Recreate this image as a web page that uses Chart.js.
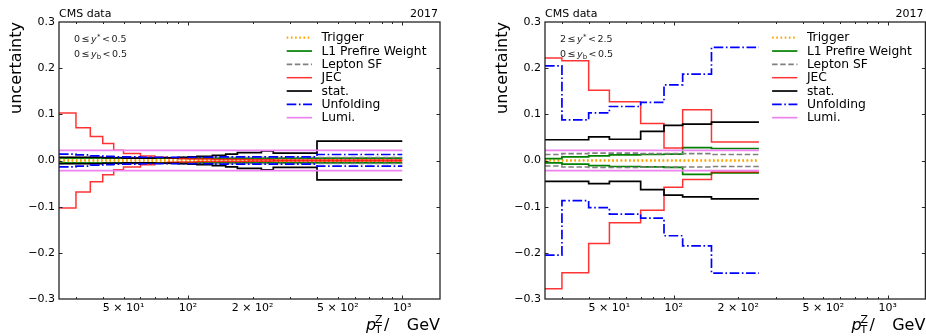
<!DOCTYPE html>
<html><head><meta charset="utf-8">
<script src="https://cdn.jsdelivr.net/npm/chart.js@4.4.0/dist/chart.umd.min.js"></script>
<style>
html,body{margin:0;padding:0;background:#fff;}
#wrap{position:relative;width:926px;height:336px;overflow:hidden;background:#fff;}
canvas{position:absolute;top:0;}
#c1{left:0;} #c2{left:463px;}
</style></head><body>
<div id="wrap"><canvas id="c1" width="463" height="336"></canvas><canvas id="c2" width="463" height="336"></canvas></div>
<script>
// ---------- data ----------
const seriesNames = ['Trigger', 'L1 Prefire Weight', 'Lepton SF', 'JEC', 'stat.', 'Unfolding', 'Lumi.'];
const xTickValues = [50, 100, 200, 500, 1000];
const xTickLabels = ['5 × 10¹', '10²', '2 × 10²', '5 × 10²', '10³'];
const yTickValues = [-0.3, -0.2, -0.1, 0.0, 0.1, 0.2, 0.3];

// left panel: 0 <= y* < 0.5, 0 <= yb < 0.5
const edgesA = [25, 30, 35, 40, 45, 50, 60, 70, 80, 90, 100, 110, 130, 150, 170, 190, 220, 250, 400, 1000];
const trigUpA   = [0.0015,0.0015,0.0015,0.0015,0.0015,0.0015,0.0015,0.0015,0.0015,0.0015,0.0015,0.0015,0.0015,0.0015,0.0015,0.0015,0.0015,0.0015,0.0015];
const trigDownA = [-0.0015,-0.0015,-0.0015,-0.0015,-0.0015,-0.0015,-0.0015,-0.0015,-0.0015,-0.0015,-0.0015,-0.0015,-0.0015,-0.0015,-0.0015,-0.0015,-0.0015,-0.0015,-0.0015];
const l1UpA     = [0.005,0.005,0.005,0.005,0.005,0.005,0.005,0.005,0.005,0.005,0.005,0.005,0.005,0.005,0.005,0.005,0.005,0.005,0.005];
const l1DownA   = [-0.005,-0.005,-0.005,-0.005,-0.005,-0.005,-0.005,-0.005,-0.005,-0.005,-0.005,-0.005,-0.005,-0.005,-0.005,-0.005,-0.005,-0.005,-0.005];
const lepUpA    = [0.0065,0.0065,0.0065,0.0065,0.0065,0.0065,0.0065,0.0065,0.0065,0.0065,0.0065,0.0065,0.0065,0.0065,0.0065,0.0065,0.0065,0.0065,0.0065];
const lepDownA  = [-0.0065,-0.0065,-0.0065,-0.0065,-0.0065,-0.0065,-0.0065,-0.0065,-0.0065,-0.0065,-0.0065,-0.0065,-0.0065,-0.0065,-0.0065,-0.0065,-0.0065,-0.0065,-0.0065];
const jecUpA    = [0.103,0.071,0.052,0.037,0.022,0.015,0.010,0.007,0.005,0.004,0.003,0.003,0.002,0.002,0.002,0.0015,0.0015,0.001,0.001];
const jecDownA  = [-0.103,-0.068,-0.046,-0.031,-0.020,-0.014,-0.009,-0.006,-0.004,-0.003,-0.003,-0.002,-0.002,-0.002,-0.002,-0.0015,-0.0015,-0.001,-0.001];
const statUpA   = [0.007,0.007,0.007,0.006,0.006,0.005,0.005,0.006,0.006,0.007,0.008,0.009,0.011,0.014,0.017,0.017,0.021,0.016,0.042];
const statDownA = [-0.007,-0.007,-0.007,-0.006,-0.006,-0.005,-0.005,-0.006,-0.006,-0.007,-0.008,-0.009,-0.011,-0.014,-0.017,-0.017,-0.020,-0.015,-0.042];
const unfUpA    = [0.014,0.012,0.010,0.009,0.008,0.008,0.007,0.007,0.007,0.007,0.007,0.007,0.008,0.008,0.008,0.008,0.008,0.008,0.013];
const unfDownA  = [-0.014,-0.012,-0.010,-0.009,-0.008,-0.008,-0.007,-0.007,-0.007,-0.007,-0.007,-0.007,-0.008,-0.008,-0.008,-0.008,-0.008,-0.008,-0.012];
const lumiUpA   = [0.022,0.022,0.022,0.022,0.022,0.022,0.022,0.022,0.022,0.022,0.022,0.022,0.022,0.022,0.022,0.022,0.022,0.022,0.022];
const lumiDownA = [-0.022,-0.022,-0.022,-0.022,-0.022,-0.022,-0.022,-0.022,-0.022,-0.022,-0.022,-0.022,-0.022,-0.022,-0.022,-0.022,-0.022,-0.022,-0.022];

// right panel: 2 <= y* < 2.5, 0 <= yb < 0.5
const edgesB = [25, 30, 40, 50, 70, 90, 110, 150, 250];
const trigUpB   = [0.0005,0.0005,0.0005,0.0005,0.0005,0.0005,0.0005,0.0005];
const trigDownB = [-0.0005,-0.0005,-0.0005,-0.0005,-0.0005,-0.0005,-0.0005,-0.0005];
const l1UpB     = [0.004,0.008,0.010,0.012,0.013,0.014,0.028,0.026];
const l1DownB   = [-0.005,-0.008,-0.011,-0.013,-0.014,-0.015,-0.030,-0.027];
const lepUpB    = [0.013,0.015,0.016,0.016,0.015,0.015,0.015,0.013];
const lepDownB  = [-0.012,-0.014,-0.015,-0.015,-0.014,-0.014,-0.014,-0.013];
const jecUpB    = [0.222,0.216,0.152,0.127,0.080,0.027,0.110,0.040];
const jecDownB  = [-0.278,-0.243,-0.180,-0.135,-0.108,-0.058,-0.041,-0.025];
const statUpB   = [0.045,0.045,0.051,0.046,0.063,0.076,0.079,0.083];
const statDownB = [-0.045,-0.045,-0.050,-0.045,-0.063,-0.075,-0.079,-0.083];
const unfUpB    = [0.205,0.088,0.103,0.117,0.126,0.164,0.187,0.245];
const unfDownB  = [-0.205,-0.087,-0.102,-0.116,-0.125,-0.163,-0.185,-0.244];
const lumiUpB   = [0.022,0.022,0.022,0.022,0.022,0.022,0.022,0.022];
const lumiDownB = [-0.022,-0.022,-0.022,-0.022,-0.022,-0.022,-0.022,-0.022];

// ---------- styles ----------
const seriesStyles = [
  {color:'#ffa500', width:2.2, dash:[1.6,2.6]},
  {color:'#008000', width:1.7, dash:[]},
  {color:'#808080', width:1.6, dash:[5.5,2.6]},
  {color:'rgba(255,0,0,0.8)', width:1.5, dash:[]},
  {color:'#000000', width:1.7, dash:[]},
  {color:'#0000ff', width:1.7, dash:[9.6,2.6,1.6,2.6]},
  {color:'#ee82ee', width:1.7, dash:[]}
];

Chart.defaults.font.family = '"DejaVu Sans"';
Chart.defaults.font.size = 11;
Chart.defaults.color = '#000';

function steps(edges, vals) {
  const pts = vals.map((v, i) => ({x: edges[i], y: v}));
  pts.push({x: edges[edges.length - 1], y: vals[vals.length - 1]});
  return pts;
}

function buildDatasets(edges, pairs) {
  const ds = [];
  pairs.forEach((pr, i) => {
    const st = seriesStyles[i];
    [pr[0], pr[1]].forEach(vals => {
      ds.push({
        label: seriesNames[i],
        data: steps(edges, vals),
        borderColor: st.color, borderWidth: st.width, borderDash: st.dash,
        pointRadius: 0, fill: false, stepped: true, order: -i
      });
    });
  });
  return ds;
}

function drawParts(ctx, x, y, parts) {
  parts.forEach(p => {
    ctx.font = p.f;
    ctx.fillText(p.t, x, y + (p.dy || 0));
    x += ctx.measureText(p.t).width + (p.gap || 0);
  });
}

function decoPlugin(cfg) {
  return {
    id: 'deco',
    afterDraw(chart) {
      const ctx = chart.ctx, a = chart.chartArea, xs = chart.scales.x, ys = chart.scales.y;
      ctx.save();
      // frame
      ctx.strokeStyle = '#262626'; ctx.lineWidth = 1.3; ctx.setLineDash([]);
      ctx.strokeRect(a.left, a.top, a.right - a.left, a.bottom - a.top);
      // inward ticks
      ctx.lineWidth = 1;
      const minor = [30,40,50,60,70,80,90,200,300,400,500,600,700,800,900];
      const major = [100,1000];
      const tick = (v, len) => {
        const px = Math.round(xs.getPixelForValue(v)) + 0.5;
        if (px <= a.left || px >= a.right) return;
        ctx.beginPath();
        ctx.moveTo(px, a.bottom); ctx.lineTo(px, a.bottom - len);
        ctx.moveTo(px, a.top); ctx.lineTo(px, a.top + len);
        ctx.stroke();
      };
      minor.forEach(v => tick(v, 2));
      major.forEach(v => tick(v, 3.5));
      yTickValues.forEach(v => {
        const py = Math.round(ys.getPixelForValue(v)) + 0.5;
        if (py <= a.top + 1 || py >= a.bottom - 1) return;
        ctx.beginPath();
        ctx.moveTo(a.left, py); ctx.lineTo(a.left + 3.5, py);
        ctx.moveTo(a.right, py); ctx.lineTo(a.right - 3.5, py);
        ctx.stroke();
      });
      // header texts
      ctx.fillStyle = '#000';
      ctx.font = '11px "DejaVu Sans"';
      ctx.textBaseline = 'alphabetic';
      ctx.textAlign = 'left';
      ctx.fillText('CMS data', a.left, 17);
      ctx.textAlign = 'right';
      ctx.fillText('2017', a.right - 2, 17);
      // region annotations
      ctx.textAlign = 'left';
      ctx.fillStyle = '#222';
      const f = '9.5px "DejaVu Sans"', fi = 'italic 9.5px "DejaVu Sans"', fs = '7px "DejaVu Sans"';
      drawParts(ctx, a.left + 15, 42, [
        {t: cfg.ystarLo, f: f, gap: 1.5}, {t: '≤', f: f, gap: 1.5}, {t: 'y', f: fi, gap: 0.3},
        {t: '*', f: fs, dy: -3.5, gap: 1.5}, {t: '<', f: f, gap: 1.5}, {t: cfg.ystarHi, f: f}
      ]);
      drawParts(ctx, a.left + 15, 57, [
        {t: '0', f: f, gap: 1.5}, {t: '≤', f: f, gap: 1.5}, {t: 'y', f: fi, gap: 0},
        {t: 'b', f: fs, dy: 2, gap: 1.5}, {t: '<', f: f, gap: 1.5}, {t: '0.5', f: f}
      ]);
      // legend
      ctx.fillStyle = '#000';
      ctx.font = '12.3px "DejaVu Sans"';
      ctx.textBaseline = 'middle';
      const hx0 = a.right - 153.3, hx1 = a.right - 128, tx = a.right - 118.5;
      seriesNames.forEach((name, i) => {
        const st = seriesStyles[i];
        const yy = 37.7 + i * 13.33;
        ctx.strokeStyle = st.color; ctx.lineWidth = st.width; ctx.setLineDash(st.dash);
        ctx.beginPath(); ctx.moveTo(hx0, yy); ctx.lineTo(hx1, yy); ctx.stroke();
        ctx.setLineDash([]);
        ctx.fillText(name, tx, yy + 0.5);
      });
      // y label (top aligned)
      ctx.save();
      ctx.translate(cfg.ylabelX, a.top);
      ctx.rotate(-Math.PI / 2);
      ctx.font = '16px "DejaVu Sans"';
      ctx.textAlign = 'right';
      ctx.textBaseline = 'middle';
      ctx.fillText('uncertainty', 0, 0);
      ctx.restore();
      // x label (right aligned)
      ctx.textBaseline = 'alphabetic';
      ctx.textAlign = 'left';
      ctx.font = 'italic 16px "DejaVu Sans"';
      ctx.fillText('p', a.right - 74, 330);
      ctx.font = '11px "DejaVu Sans"';
      ctx.fillText('T', a.right - 65, 333);
      ctx.fillText('Z', a.right - 65, 323);
      ctx.font = '16px "DejaVu Sans"';
      ctx.fillText('/', a.right - 56, 330);
      ctx.textAlign = 'right';
      ctx.fillText('GeV', a.right, 330);
      ctx.restore();
    }
  };
}

function makeChart(id, edges, pairs, yWidth, padRight, cfg) {
  return new Chart(document.getElementById(id), {
    type: 'line',
    data: {datasets: buildDatasets(edges, pairs)},
    options: {
      responsive: false, animation: false, devicePixelRatio: 1,
      layout: {padding: {top: 22, right: padRight, bottom: 0, left: 0}},
      plugins: {legend: {display: false}, tooltip: {enabled: false}},
      scales: {
        x: {
          type: 'logarithmic', min: 25, max: 1500,
          grid: {display: false, drawTicks: false}, border: {display: false},
          afterBuildTicks: s => { s.ticks = xTickValues.map(v => ({value: v})); },
          afterFit: s => { s.height = 37; },
          ticks: {
            autoSkip: false, maxRotation: 0, padding: 3, color: '#000',
            callback: (v) => { const k = xTickValues.indexOf(v); return k >= 0 ? xTickLabels[k] : ''; }
          }
        },
        y: {
          type: 'linear', min: -0.3, max: 0.3,
          grid: {display: false, drawTicks: false}, border: {display: false},
          afterBuildTicks: s => { s.ticks = yTickValues.map(v => ({value: v})); },
          afterFit: s => { s.width = yWidth; },
          ticks: {
            padding: 4, color: '#000',
            callback: v => { const t = Math.abs(v) < 1e-9 ? '0.0' : v.toFixed(1); return t.replace('-', '−'); }
          }
        }
      }
    },
    plugins: [decoPlugin(cfg)]
  });
}

makeChart('c1', edgesA, [
  [trigUpA, trigDownA], [l1UpA, l1DownA], [lepUpA, lepDownA], [jecUpA, jecDownA],
  [statUpA, statDownA], [unfUpA, unfDownA], [lumiUpA, lumiDownA]
], 59, 23, {ystarLo: '0', ystarHi: '0.5', ylabelX: 16.5});

makeChart('c2', edgesB, [
  [trigUpB, trigDownB], [l1UpB, l1DownB], [lepUpB, lepDownB], [jecUpB, jecDownB],
  [statUpB, statDownB], [unfUpB, unfDownB], [lumiUpB, lumiDownB]
], 82, 0.6, {ystarLo: '2', ystarHi: '2.5', ylabelX: 39.5});
</script>
</body></html>
